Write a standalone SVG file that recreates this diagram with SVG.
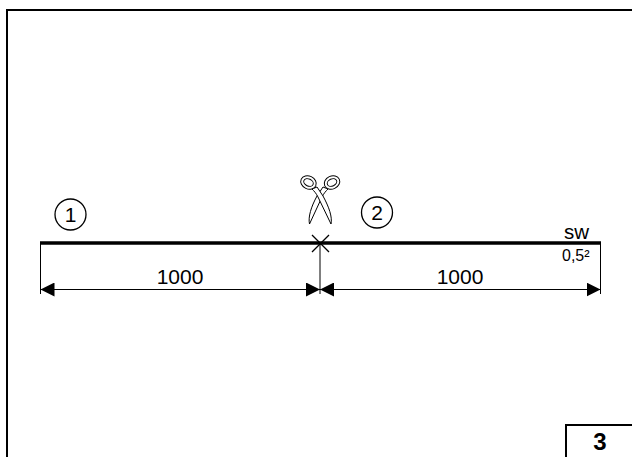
<svg xmlns="http://www.w3.org/2000/svg" width="632" height="457" viewBox="0 0 632 457">
<style>
.t{font-family:"Liberation Sans",Arial,sans-serif;fill:#000}
.f{fill:none;stroke:#000;stroke-width:2}
.d{fill:none;stroke:#000;stroke-width:1}
.c{fill:none;stroke:#000;stroke-width:1.300}
.s{fill:#fff;stroke:#000;stroke-width:1}
</style>
<defs>
<marker id="a" markerUnits="userSpaceOnUse" markerWidth="14" markerHeight="14" refX="14" refY="7" orient="auto-start-reverse"><path d="M0 0L14 7L0 14Z" fill="#000"/></marker>
</defs>
<rect width="632" height="457" fill="#fff"/>
<g id="frame"><path class="f" d="M7 457V10H632"/></g>
<g id="tab"><path class="f" d="M566 457V425H632"/><text class="t" x="600" y="450" font-size="24" font-weight="bold" text-anchor="middle">3</text></g>
<g id="connectors">
<path d="M40 243H601" fill="none" stroke="#000" stroke-width="3.500"/>
<path class="d" d="M40.500 243V294M320 243V294M600.500 243V294"/>
<path class="d" d="M40.500 289.500H320" marker-start="url(#a)" marker-end="url(#a)"/>
<path class="d" d="M320 289.500H600.500" marker-start="url(#a)" marker-end="url(#a)"/>
<path d="M312 235L329 252M329 235L312 252" fill="none" stroke="#000" stroke-width="1.300"/>
</g>
<g id="node-1"><circle class="c" cx="70.500" cy="214.500" r="15.500"/><text class="t" x="70.500" y="222" font-size="21" text-anchor="middle">1</text></g>
<g id="node-2"><circle class="c" cx="377" cy="212.500" r="15.500"/><text class="t" x="377" y="220" font-size="21" text-anchor="middle">2</text></g>
<g id="scissors">
<path class="s" d="M328 189C326 191 324 193 322 197L309.500 224C308 217 311 207 317 196L323 187Z"/>
<path class="s" d="M312 189C314 191 316 193 318 197L331 224C332.500 217 329 207 323 196L317 187Z"/>
<ellipse class="s" cx="308.500" cy="182.500" rx="8" ry="6.500" transform="rotate(25 308.500 182.500)"/>
<ellipse class="s" cx="308.500" cy="182.500" rx="5" ry="3.500" transform="rotate(25 308.500 182.500)"/>
<ellipse class="s" cx="332" cy="182.500" rx="8" ry="6.500" transform="rotate(-25 332 182.500)"/>
<ellipse class="s" cx="332" cy="182.500" rx="5" ry="3.500" transform="rotate(-25 332 182.500)"/>
</g>
<g id="labels">
<text class="t" x="180" y="284" font-size="21" text-anchor="middle">1000</text>
<text class="t" x="460" y="284" font-size="21" text-anchor="middle">1000</text>
<text class="t" x="576.500" y="239" font-size="20.500" text-anchor="middle">sw</text>
<text class="t" x="562" y="261" font-size="16">0,5²</text>
</g>
</svg>
